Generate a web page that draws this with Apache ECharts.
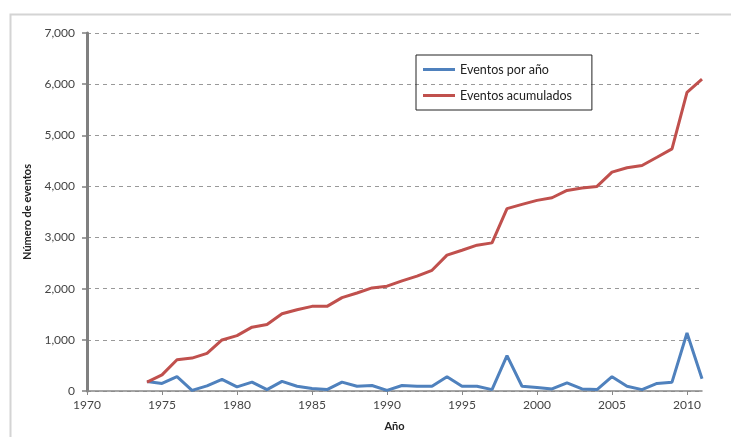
<!DOCTYPE html>
<html>
<head>
<meta charset="utf-8">
<script src="https://cdn.jsdelivr.net/npm/echarts@6/dist/echarts.min.js"></script>
<style>
html,body{margin:0;padding:0;background:#fff;}
#chart{width:731px;height:437px;}
</style>
</head>
<body>
<div id="chart"></div>
<script>
const years = [1974,1975,1976,1977,1978,1979,1980,1981,1982,1983,1984,1985,1986,1987,1988,1989,1990,1991,1992,1993,1994,1995,1996,1997,1998,1999,2000,2001,2002,2003,2004,2005,2006,2007,2008,2009,2010,2011];
const eventosPorAnio = [187,147,280,13,100,227,80,173,27,187,93,47,27,173,93,107,13,107,93,93,280,93,93,27,693,93,67,40,160,40,27,280,93,27,147,173,1133,240];
const eventosAcumulados = [175,315,610,643,735,998,1083,1248,1300,1510,1589,1655,1655,1825,1917,2016,2049,2154,2246,2360,2656,2753,2851,2896,3565,3649,3727,3779,3922,3968,4000,4279,4364,4409,4571,4734,5838,6097];
const xTicks = [1970,1975,1980,1985,1990,1995,2000,2005,2010];
const seriesNames = ['Eventos por año','Eventos acumulados'];

const chart = echarts.init(document.getElementById('chart'), null, {renderer:'canvas'});
const font = 'Lato, "Open Sans", sans-serif';
chart.setOption({
  animation:false,
  backgroundColor:'#fff',
  graphic:[{type:'rect',left:8,top:12,shape:{width:800,height:500},style:{fill:'none',stroke:'#d4d4d4',lineWidth:2},z:-1}],
  grid:{left:87,right:29,top:33,bottom:46},
  legend:{
    orient:'vertical',left:416,top:55,
    padding:[8,20,8,7],itemGap:13,
    itemWidth:32,itemHeight:3,icon:'rect',
    borderColor:'#222',borderWidth:1,
    textStyle:{fontFamily:font,fontSize:12.5,color:'#222'},
    data:seriesNames
  },
  xAxis:{
    type:'value',min:1970,max:2011,interval:5,
    name:'Año',nameLocation:'middle',nameGap:30,
    nameTextStyle:{fontFamily:font,fontSize:11,fontWeight:'bold',color:'#222'},
    axisLine:{lineStyle:{color:'#888',width:1.5}},
    axisTick:{show:true,length:4,customValues:xTicks,lineStyle:{color:'#888'}},
    axisLabel:{customValues:xTicks,fontFamily:font,fontSize:12,color:'#444',margin:8,
      formatter:v=>String(v)},
    splitLine:{show:false}
  },
  yAxis:{
    type:'value',min:0,max:7000,interval:1000,
    name:'Número de eventos',nameLocation:'middle',nameGap:54,
    nameTextStyle:{fontFamily:font,fontSize:11,fontWeight:'bold',color:'#222'},
    axisLine:{show:true,lineStyle:{color:'#808080',width:3}},
    axisTick:{show:true,length:5,lineStyle:{color:'#808080',width:1.5}},
    axisLabel:{fontFamily:font,fontSize:12,color:'#444',margin:12,
      formatter:v=>v.toLocaleString('en-US')},
    splitLine:{show:true,lineStyle:{color:'#999',type:[4,4],width:1}}
  },
  series:[
    {name:seriesNames[0],type:'line',data:years.map((y,i)=>[y,eventosPorAnio[i]]),
     showSymbol:false,symbol:'none',lineStyle:{color:'#4F81BD',width:3},itemStyle:{color:'#4F81BD'}},
    {name:seriesNames[1],type:'line',data:years.map((y,i)=>[y,eventosAcumulados[i]]),
     showSymbol:false,symbol:'none',lineStyle:{color:'#C0504D',width:3},itemStyle:{color:'#C0504D'}}
  ]
});
</script>
</body>
</html>
